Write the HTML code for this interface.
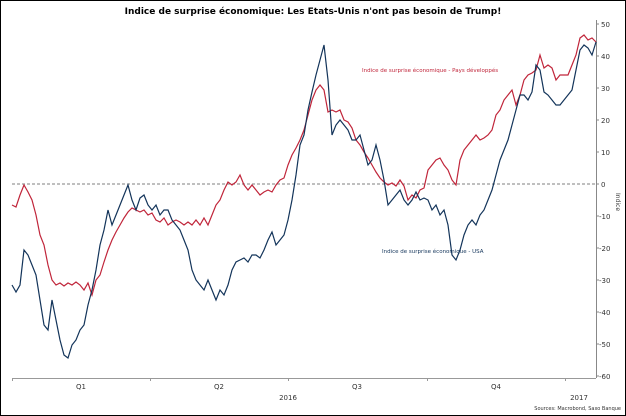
<!DOCTYPE html>
<html><head><meta charset="utf-8"><style>
body{margin:0;background:#fff}
svg{display:block;font-family:"DejaVu Sans","Liberation Sans",sans-serif}
</style></head><body>
<svg width="626" height="416" viewBox="0 0 626 416">
<rect x="0.5" y="0.5" width="625" height="415" fill="#fff" stroke="#000"/>
<text x="313" y="14" text-anchor="middle" font-size="9" font-weight="bold">Indice de surprise économique: Les Etats-Unis n'ont pas besoin de Trump!</text>
<line x1="596.5" y1="20" x2="596.5" y2="378" stroke="#888"/>
<g font-size="7" fill="#333">
<text x="601" y="27">50</text><text x="601" y="59">40</text><text x="601" y="91">30</text><text x="601" y="123">20</text><text x="601" y="155">10</text><text x="601" y="187">0</text><text x="599" y="219">-10</text><text x="599" y="251">-20</text><text x="599" y="283">-30</text><text x="599" y="315">-40</text><text x="599" y="347">-50</text><text x="599" y="379">-60</text>
</g>
<g stroke="#888"><line x1="596" y1="24" x2="599" y2="24"/><line x1="596" y1="56" x2="599" y2="56"/><line x1="596" y1="88" x2="599" y2="88"/><line x1="596" y1="120" x2="599" y2="120"/><line x1="596" y1="152" x2="599" y2="152"/><line x1="596" y1="184" x2="599" y2="184"/><line x1="596" y1="216" x2="599" y2="216"/><line x1="596" y1="248" x2="599" y2="248"/><line x1="596" y1="280" x2="599" y2="280"/><line x1="596" y1="312" x2="599" y2="312"/><line x1="596" y1="344" x2="599" y2="344"/><line x1="596" y1="376" x2="599" y2="376"/></g>
<text transform="translate(616,193) rotate(90)" font-size="6" fill="#333">Indice</text>
<line x1="12" y1="378.5" x2="596" y2="378.5" stroke="#999"/>
<g stroke="#999"><line x1="12.5" y1="378" x2="12.5" y2="381"/><line x1="150.5" y1="378" x2="150.5" y2="381"/><line x1="288.5" y1="378" x2="288.5" y2="381"/><line x1="427.5" y1="378" x2="427.5" y2="381"/><line x1="565.5" y1="378" x2="565.5" y2="381"/></g>
<g font-size="7" fill="#333" text-anchor="middle">
<text x="81" y="389">Q1</text><text x="219" y="389">Q2</text><text x="357" y="389">Q3</text><text x="496" y="389">Q4</text><text x="288" y="400">2016</text><text x="579" y="400">2017</text>
</g>
<text x="621" y="410" text-anchor="end" font-size="5" fill="#333">Sources: Macrobond, Saxo Banque</text>
<line x1="12" y1="184" x2="596" y2="184" stroke="#555" stroke-dasharray="3,2" stroke-width="0.8"/>
<polyline fill="none" stroke="#c0253a" stroke-width="1.2" points="12,205 16,207 20,195 24,185 28,192 32,200 36,215 40,235 44,245 48,265 52,280 56,285 60,283 64,286 68,283 72,285 76,282 80,285 84,290 88,283 92,295 96,280 100,275 104,262 108,250 112,240 116,232 120,225 124,218 128,212 132,208 136,210 140,212 144,210 148,215 152,213 156,220 160,222 164,218 168,225 172,222 176,220 180,222 184,225 188,222 192,225 196,220 200,225 204,218 208,225 212,215 216,205 220,200 224,190 228,182 232,185 236,182 240,175 244,185 248,190 252,185 256,190 260,195 264,192 268,190 272,192 276,185 280,180 284,178 288,165 292,155 296,148 300,140 304,130 308,115 312,100 316,90 320,85 324,90 328,112 332,110 336,112 340,110 344,120 348,122 352,128 356,140 360,145 364,152 368,158 372,165 376,172 380,178 384,182 388,185 392,183 396,186 400,180 404,186 408,200 412,195 416,198 420,190 424,188 428,170 432,165 436,160 440,158 444,165 448,170 452,180 456,185 460,160 464,150 468,145 472,140 476,135 480,140 484,138 488,135 492,130 496,115 500,110 504,100 508,95 512,90 516,105 520,95 524,80 528,75 532,73 536,70 540,55 544,68 548,65 552,68 556,80 560,75 564,75 568,75 572,65 576,55 580,38 584,35 588,40 592,38 596,42"/>
<polyline fill="none" stroke="#13345a" stroke-width="1.2" points="12,285 16,292 20,285 24,250 28,255 32,265 36,275 40,300 44,325 48,330 52,300 56,320 60,340 64,355 68,358 72,345 76,340 80,330 84,325 88,305 92,290 96,270 100,245 104,230 108,210 112,225 116,215 120,205 124,195 128,185 132,200 136,210 140,198 144,195 148,205 152,210 156,205 160,215 164,210 168,210 172,220 176,225 180,230 184,240 188,250 192,270 196,280 200,285 204,290 208,280 212,290 216,300 220,290 224,295 228,285 232,270 236,262 240,260 244,258 248,262 252,255 256,255 260,258 264,250 268,240 272,232 276,245 280,240 284,235 288,220 292,200 296,175 300,145 304,135 308,110 312,92 316,75 320,60 324,45 328,80 332,135 336,125 340,120 344,125 348,130 352,140 356,140 360,135 364,150 368,165 372,160 376,145 380,160 384,180 388,205 392,200 396,195 400,190 404,200 408,205 412,200 416,192 420,200 424,198 428,200 432,210 436,205 440,215 444,210 448,225 452,255 456,260 460,250 464,235 468,225 472,220 476,225 480,215 484,210 488,200 492,190 496,175 500,160 504,150 508,140 512,125 516,110 520,95 524,95 528,100 532,92 536,65 540,70 544,92 548,95 552,100 556,105 560,105 564,100 568,95 572,90 576,70 580,50 584,45 588,48 592,55 596,42"/>
<text x="362" y="72" font-size="5.5" fill="#c0253a">Indice de surprise économique - Pays développés</text>
<text x="382" y="253" font-size="5.5" fill="#13345a">Indice de surprise économique - USA</text>
</svg>
</body></html>
